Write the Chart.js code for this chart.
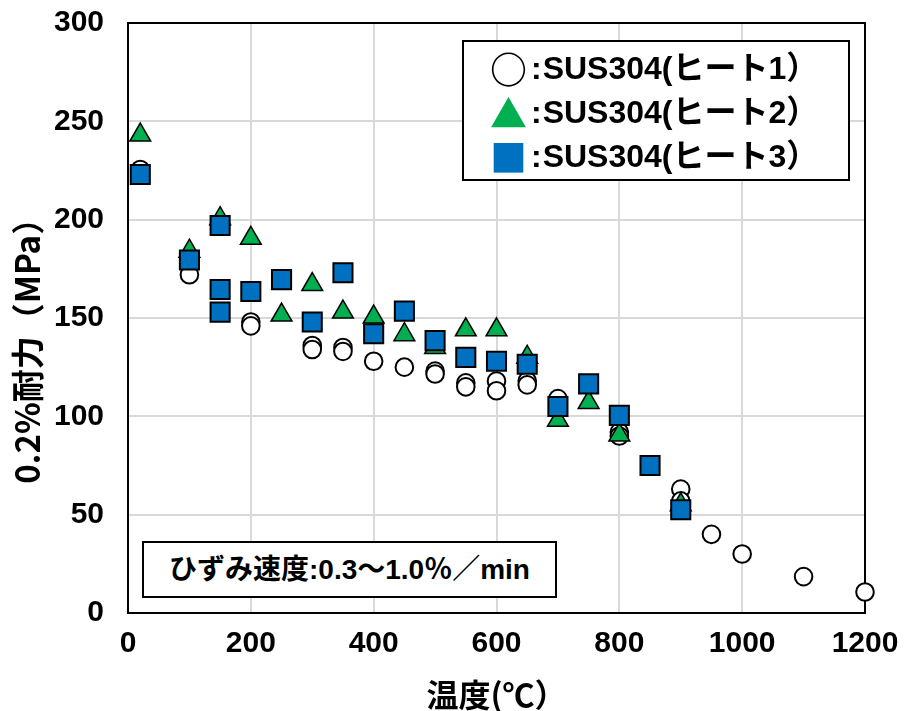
<!DOCTYPE html>
<html lang="ja">
<head>
<meta charset="utf-8">
<script src="https://cdn.jsdelivr.net/npm/chart.js@4.4.1/dist/chart.umd.min.js"></script>
<style>
  html, body { margin: 0; padding: 0; background: #fff; }
  #wrap { position: relative; width: 904px; height: 711px; }
  .box {
    position: absolute; box-sizing: border-box; border: 2px solid #000; background: #fff;
    font-family: "Liberation Sans", "Noto Sans CJK JP", sans-serif; font-weight: bold; color: #000;
    white-space: nowrap;
  }
  #legendBox { left: 462px; top: 40px; width: 388px; height: 141px; padding: 4px 0 0 26px; font-size: 32px; }
  #legendBox .line { height: 44px; line-height: 44px; }
  .sym { display: inline-block; width: 34px; text-align: center; font-family: "Noto Sans CJK JP", sans-serif; font-size: 37px; line-height: 44px; vertical-align: top; }
  .colon { margin-left: 7px; margin-right: 1px; }
  #noteBox { left: 142px; top: 541px; width: 415px; height: 57px; font-size: 28px; line-height: 53px; text-align: center; }
</style>
</head>
<body>
<div id="wrap">
  <canvas id="myChart" width="904" height="711"></canvas>
  <div class="box" id="legendBox"></div>
  <div class="box" id="noteBox"></div>
</div>
<script>
// 0.2%耐力 vs 温度, SUS304 3ヒート

const heat1Temp = [20, 100, 200, 200, 300, 300, 350, 350, 400, 450, 500, 500, 550, 550, 600, 600, 650, 650, 700, 800, 800, 900, 900, 950, 1000, 1100, 1200];
const heat1Stress = [225.5, 172, 148, 146, 136, 134, 135, 133, 128, 125, 123, 121.5, 117, 115, 118, 113, 118, 116, 109, 92, 90, 63, 57, 40, 30, 18.5, 10.7];

const heat2Temp = [20, 100, 150, 200, 250, 300, 350, 400, 450, 500, 550, 600, 650, 700, 750, 800, 900];
const heat2Stress = [243, 184, 200.5, 190.5, 151.5, 167, 153, 150.5, 141.5, 135, 144, 144, 130, 98, 107, 90.5, 55];

const heat3Temp = [20, 100, 150, 150, 150, 200, 250, 300, 350, 400, 450, 500, 550, 600, 650, 700, 750, 800, 850, 900];
const heat3Stress = [223, 179.5, 197, 164.5, 153, 163.5, 169.5, 148, 173, 142, 153.5, 138.5, 130, 128, 126.5, 105, 116.5, 100.5, 75, 52.5];

const seriesNames = ['SUS304(ヒート1）', 'SUS304(ヒート2）', 'SUS304(ヒート3）'];
const seriesSymbols = ['○', '▲', '■'];
const seriesColors = ['#FFFFFF', '#00B050', '#0070C0'];

const xTicks = [0, 200, 400, 600, 800, 1000, 1200];
const yTicks = [0, 50, 100, 150, 200, 250, 300];

const xTitle = '温度(℃）';
const yTitle = '0.2%耐力（MPa）　　'; // trailing spaces push the label down a bit like the original
const noteText = 'ひずみ速度:0.3～1.0％／min';

function toPoints(xs, ys) {
    return xs.map((x, i) => ({ x: x, y: ys[i] }));
}

document.addEventListener('DOMContentLoaded', () => {
    // legend and note as html boxes
    const legend = document.getElementById('legendBox');
    seriesNames.forEach((name, i) => {
        const line = document.createElement('div');
        line.className = 'line';
        const sym = document.createElement('span');
        sym.className = 'sym';
        sym.textContent = seriesSymbols[i];
        sym.style.color = i === 0 ? '#000' : seriesColors[i];
        const colon = document.createElement('span');
        colon.className = 'colon';
        colon.textContent = ':';
        line.appendChild(sym);
        line.appendChild(colon);
        line.appendChild(document.createTextNode(name));
        legend.appendChild(line);
    });
    document.getElementById('noteBox').textContent = noteText;

    const tickFont = { family: '"Liberation Sans", "Noto Sans CJK JP", sans-serif', weight: 'bold', size: 30 };
    const titleFont = { family: '"Noto Sans CJK JP", sans-serif', weight: 'bold', lineHeight: 1 };

    const ctx = document.getElementById('myChart').getContext('2d');
    new Chart(ctx, {
        type: 'scatter',
        data: {
            datasets: [
                {
                    label: seriesNames[2],
                    data: toPoints(heat3Temp, heat3Stress),
                    pointStyle: 'rect',
                    pointRadius: 13.5,
                    backgroundColor: seriesColors[2],
                    borderColor: '#000',
                    borderWidth: 2,
                    order: 1,
                    clip: false
                },
                {
                    label: seriesNames[1],
                    data: toPoints(heat2Temp, heat2Stress),
                    pointStyle: 'triangle',
                    pointRadius: 12,
                    backgroundColor: seriesColors[1],
                    borderColor: '#000',
                    borderWidth: 1.5,
                    order: 2,
                    clip: false
                },
                {
                    label: seriesNames[0],
                    data: toPoints(heat1Temp, heat1Stress),
                    pointStyle: 'circle',
                    pointRadius: 8.8,
                    backgroundColor: seriesColors[0],
                    borderColor: '#000',
                    borderWidth: 2,
                    order: 3,
                    clip: false
                }
            ]
        },
        options: {
            responsive: false,
            animation: false,
            layout: { padding: { top: 23, right: 39, left: 0, bottom: 0 } },
            plugins: {
                legend: { display: false },
                tooltip: { enabled: false }
            },
            scales: {
                x: {
                    type: 'linear',
                    min: xTicks[0],
                    max: xTicks[xTicks.length - 1],
                    afterBuildTicks: (scale) => { scale.ticks = xTicks.map(v => ({ value: v })); },
                    afterFit: (scale) => { scale.height = 98; },
                    // invisible tick marks give the label gap without extra layout padding
                    grid: { color: '#D9D9D9', lineWidth: 2, drawTicks: true, tickLength: 13, tickColor: 'rgba(0,0,0,0)' },
                    border: { color: '#000', width: 2 },
                    ticks: { color: '#000', padding: 0, font: tickFont, callback: (v) => String(v) },
                    title: {
                        display: true,
                        text: xTitle,
                        color: '#000',
                        padding: { top: 2, bottom: 0 },
                        font: { ...titleFont, size: 32 }
                    }
                },
                y: {
                    type: 'linear',
                    min: yTicks[0],
                    max: yTicks[yTicks.length - 1],
                    afterBuildTicks: (scale) => { scale.ticks = yTicks.map(v => ({ value: v })); },
                    afterFit: (scale) => { scale.width = 128; },
                    grid: { color: '#D9D9D9', lineWidth: 2, drawTicks: true, tickLength: 24, tickColor: 'rgba(0,0,0,0)' },
                    border: { color: '#000', width: 2 },
                    ticks: { color: '#000', padding: 0, font: tickFont, callback: (v) => String(v) },
                    title: {
                        display: true,
                        text: yTitle,
                        color: '#000',
                        padding: { top: 11, bottom: 0 },
                        font: { ...titleFont, size: 33 }
                    }
                },
                x2: {
                    type: 'linear',
                    position: 'top',
                    min: 0, max: 1,
                    afterFit: (scale) => { scale.height = 0; },
                    grid: { display: false, drawTicks: false },
                    border: { color: '#000', width: 2 },
                    ticks: { display: false }
                },
                y2: {
                    type: 'linear',
                    position: 'right',
                    min: 0, max: 1,
                    afterFit: (scale) => { scale.width = 0; },
                    grid: { display: false, drawTicks: false },
                    border: { color: '#000', width: 2 },
                    ticks: { display: false }
                }
            }
        }
    });
});
</script>
</body>
</html>
